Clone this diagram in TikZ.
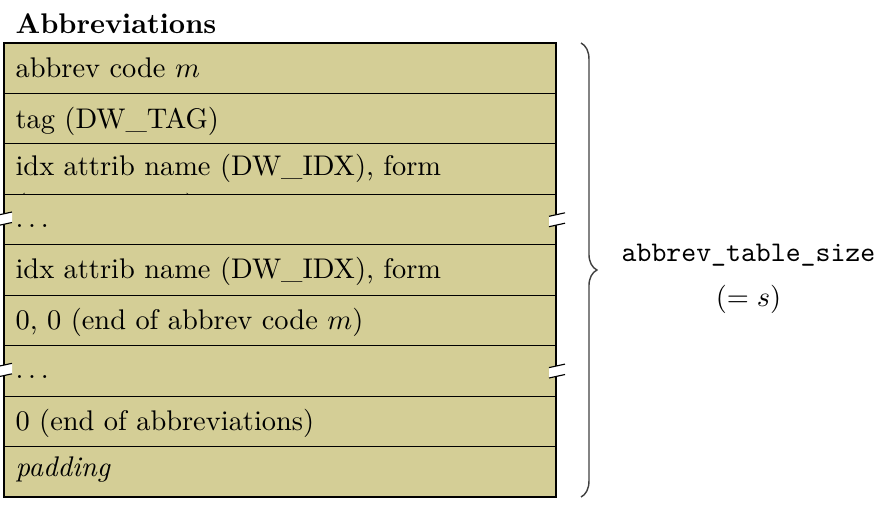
\documentclass[tikz,border=0pt]{standalone}
\usetikzlibrary{decorations.pathreplacing}
\definecolor{rowfill}{RGB}{212,206,150}
\tikzset{
  rowbox/.style={draw=black, line width=0.4pt, fill=rowfill},
  rowtext/.style={anchor=base west, inner sep=0pt, font=\normalfont},
  gapmark/.style={fill=white, draw=none},
  gapline/.style={draw=black, line width=0.4pt},
}
\begin{document}
\begin{tikzpicture}[x=0.352pt,y=-0.352pt]
\useasboundingbox (0,0) rectangle (890,508);
% title
\node[anchor=base west, inner sep=0pt, font=\bfseries] (title) at (15,33) {Abbreviations};
% rows
\path[rowbox] (4,43) rectangle (556,93.4);
\node[rowtext] (t1) at (15,77.3) {abbrev code $m$};
\path[rowbox] (4,93.4) rectangle (556,143.9);
\node[rowtext] (t2) at (15,128) {tag (DW\_TAG)};
\path[rowbox] (4,143.9) rectangle (556,194.3);
\node[rowtext] (t3) at (15,175) {idx attrib name (DW\_IDX), form};
\begin{scope}
  \clip (4,143.9) rectangle (556,194.3);
  \node[rowtext] (t3b) at (15,214.5) {(DW\_FORM)};
\end{scope}
\path[rowbox] (4,194.3) rectangle (556,244.8);
\node[rowtext] (t4) at (15,227.5) {$\ldots$};
\path[rowbox] (4,244.8) rectangle (556,295.2);
\node[rowtext] (t5) at (15,278.3) {idx attrib name (DW\_IDX), form};
\begin{scope}
  \clip (4,244.8) rectangle (556,295.2);
  \node[rowtext] (t5b) at (15,317.8) {(DW\_FORM)};
\end{scope}
\path[rowbox] (4,295.2) rectangle (556,345.6);
\node[rowtext] (t6) at (15,329.3) {0, 0 (end of abbrev code $m$)};
\path[rowbox] (4,345.6) rectangle (556,396.1);
\node[rowtext] (t7) at (15,378.8) {$\ldots$};
\path[rowbox] (4,396.1) rectangle (556,446.5);
\node[rowtext] (t8) at (15,430) {0 (end of abbreviations)};
\path[rowbox] (4,446.5) rectangle (556,497);
\node[rowtext] (t9) at (15,476.7) {\itshape padding};
% skipped-words marks
\foreach \dy in {0,151.3}{
  \path[gapmark] (-4,215.5+\dy) -- (12,212+\dy) -- (12,222.5+\dy) -- (-4,226+\dy) -- cycle;
  \draw[gapline] (-4,215.5+\dy) -- (12,212+\dy);
  \draw[gapline] (-4,226+\dy) -- (12,222.5+\dy);
  \path[gapmark] (549,216.3+\dy) -- (565,212.8+\dy) -- (565,223.2+\dy) -- (549,226.7+\dy) -- cycle;
  \draw[gapline] (549,216.3+\dy) -- (565,212.8+\dy);
  \draw[gapline] (549,226.7+\dy) -- (565,223.2+\dy);
}
% brace
\coordinate (btop) at (581,43);
\coordinate (bbot) at (581,497);
\draw[decorate, decoration={brace, amplitude=5.6pt}, line width=0.5pt, black!75] (btop) -- (bbot);
% label
\node[anchor=base, inner sep=0pt, font=\ttfamily] (lbl) at (748.5,261) {abbrev\_table\_size};
\node[anchor=base, inner sep=0pt] (lbl2) at (748.5,306) {$(=s)$};
\end{tikzpicture}
\end{document}
